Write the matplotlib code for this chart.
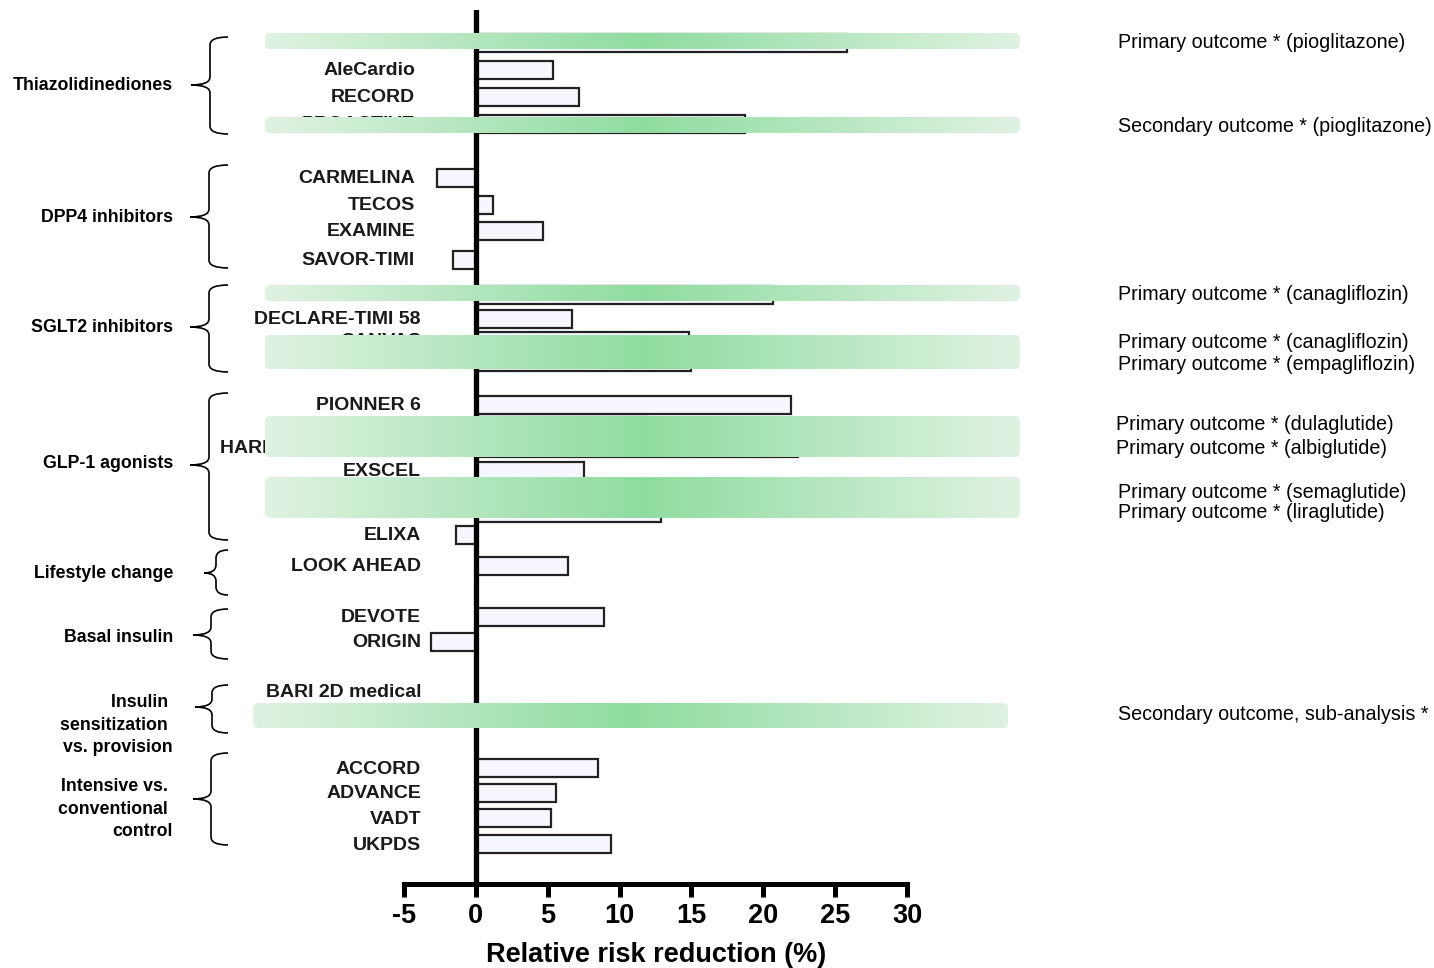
import numpy as np
import matplotlib
matplotlib.use("Agg")
import matplotlib.pyplot as plt
from matplotlib.patches import FancyBboxPatch, PathPatch
from matplotlib.path import Path

plt.rcParams['font.family'] = ['Liberation Sans', 'DejaVu Sans']

# ---------------- data ----------------
trials = ['IRIS', 'AleCardio', 'RECORD', 'PROACTIVE',
          'CARMELINA', 'TECOS', 'EXAMINE', 'SAVOR-TIMI',
          'CREDENCE', 'DECLARE-TIMI 58', 'CANVAS', 'EMPA-REG',
          'PIONNER 6', 'REWIND', 'HARMONY Outcomes', 'EXSCEL', 'SUSTAIN-6', 'LEADER', 'ELIXA',
          'LOOK AHEAD',
          'DEVOTE', 'ORIGIN',
          'BARI 2D medical', '',
          'ACCORD', 'ADVANCE', 'VADT', 'UKPDS']
rrr = [25.8, 5.4, 7.2, 18.7,
       -2.7, 1.2, 4.7, -1.6,
       20.7, 6.7, 14.8, 15.0,
       21.9, 12.0, 22.4, 7.5, 26.0, 12.9, -1.4,
       6.4,
       8.9, -3.1,
       0.0, np.nan,
       8.5, 5.6, 5.2, 9.4]

groups = ['Thiazolidinediones', 'DPP4 inhibitors', 'SGLT2 inhibitors', 'GLP-1 agonists',
          'Lifestyle change', 'Basal insulin', 'Insulin \nsensitization \nvs. provision',
          'Intensive vs. \nconventional \ncontrol']

notes = ['Primary outcome * (pioglitazone)', 'Secondary outcome * (pioglitazone)',
         'Primary outcome * (canagliflozin)', 'Primary outcome * (canagliflozin)',
         'Primary outcome * (empagliflozin)', 'Primary outcome * (dulaglutide)',
         'Primary outcome * (albiglutide)', 'Primary outcome * (semaglutide)',
         'Primary outcome * (liraglutide)', 'Secondary outcome, sub-analysis *']

xticks = [-5, 0, 5, 10, 15, 20, 25, 30]
xlabel = 'Relative risk reduction (%)'

# ---------------- layout (pixels) ----------------
W, H = 1434, 968
row_y = [43, 70, 97, 124, 178, 205, 231, 260, 295, 319, 341, 362,
         405, 426, 448, 471, 492, 513, 535, 566, 617, 642, 692, 715,
         768, 793, 818, 844]
label_right = [415] * 8 + [421] * 20
group_y = [85, 217, 327, 464, 573, 638, 725, 809]
braces = [(37, 134, 85, 210, 191), (165, 268, 217, 209, 190), (285, 372, 327, 209, 190),
          (393, 540, 465, 209, 190), (550, 595, 573, 216, 204), (609, 659, 635, 211, 193),
          (685, 733, 707, 212, 195), (753, 845, 799, 211, 193)]
note_pos = [(1118, 42), (1118, 126), (1118, 295), (1118, 342), (1118, 364),
            (1116, 425), (1116, 448), (1118, 493), (1118, 512), (1118, 714)]
bands = [(265, 1020, 33, 49), (265, 1020, 117, 133), (265, 1020, 285, 301),
         (265, 1020, 335, 369), (265, 1020, 416, 457), (265, 1020, 477, 518),
         (253, 1008, 703, 728)]

AX_L, AX_R, AX_T, AX_B = 404, 907, 10, 884

fig = plt.figure(figsize=(W / 100, H / 100), dpi=100)
ax = fig.add_axes([AX_L / W, (H - AX_B) / H, (AX_R - AX_L) / W, (AX_B - AX_T) / H])
ax.set_zorder(1)
ax.set_xlim(-5, 30)
ax.set_ylim(AX_B, AX_T)
ax.patch.set_alpha(0)

def px2x(px):
    return -5 + (px - AX_L) / (AX_R - AX_L) * 35.0

ax.barh(row_y, rrr, height=17.5, color='#F7F7FF', edgecolor='#222222', linewidth=1.6, zorder=2)
ax.axvline(0, color='black', lw=3.8, zorder=3)

for sp in ['left', 'right', 'top']:
    ax.spines[sp].set_visible(False)
ax.spines['bottom'].set_linewidth(3.6)
ax.set_yticks([])
ax.set_xticks(xticks)
ax.set_xticklabels([str(t) for t in xticks])
ax.tick_params(axis='x', direction='out', length=9.5, width=3.6, pad=4,
               labelsize=19.5, labelcolor='black')
for lab in ax.get_xticklabels():
    lab.set_fontweight('bold')
ax.set_xlabel(xlabel, fontsize=19.5, fontweight='bold', va='center')
ax.xaxis.set_label_coords(0.502, (AX_B - 955) / (AX_B - AX_T))

for name, y, rx in zip(trials, row_y, label_right):
    ax.text(px2x(rx), y + 1, name, ha='right', va='center', fontsize=14, fontweight='bold',
            color='#1a1a1a', clip_on=False, zorder=3)

# ---------------- overlay axes (pixel coordinates) ----------------
pax = fig.add_axes([0, 0, 1, 1])
pax.set_zorder(2)
pax.set_xlim(0, W)
pax.set_ylim(H, 0)
pax.axis('off')

center = np.array([143, 220, 160]) / 255.0
edge = np.array([224, 242, 226]) / 255.0
t = np.linspace(0, 1, 600)
d = np.abs(t - 0.5) * 2
grad = (center[None, :] * (1 - d[:, None]) + edge[None, :] * d[:, None])[None, :, :]

for (x0, x1, y0, y1) in bands:
    im = pax.imshow(grad, extent=(x0, x1, y1, y0), aspect='auto', zorder=5,
                    interpolation='bilinear')
    clip = FancyBboxPatch((x0, y0), x1 - x0, y1 - y0,
                          boxstyle='round,pad=0,rounding_size=5',
                          transform=pax.transData, facecolor='none', edgecolor='none')
    pax.add_patch(clip)
    im.set_clip_path(clip)
pax.set_xlim(0, W)
pax.set_ylim(H, 0)

def brace(top, bot, ty, xv, xt, xe=228, r=8):
    verts = [(xe, top), (xv, top), (xv, top + r),
             (xv, ty - r), (xv, ty), (xt, ty),
             (xv, ty), (xv, ty + r),
             (xv, bot - r), (xv, bot), (xe, bot)]
    codes = [Path.MOVETO, Path.CURVE3, Path.CURVE3,
             Path.LINETO, Path.CURVE3, Path.CURVE3,
             Path.CURVE3, Path.CURVE3,
             Path.LINETO, Path.CURVE3, Path.CURVE3]
    pax.add_patch(PathPatch(Path(verts, codes), facecolor='none', edgecolor='black',
                            lw=1.2, zorder=4))

for b in braces:
    brace(*b)

for g, y in zip(groups, group_y):
    pax.text(173, y, g, ha='right', va='center', multialignment='right', fontsize=12.8,
             fontweight='bold', color='black', linespacing=1.42, zorder=6)

for txt, (x, y) in zip(notes, note_pos):
    pax.text(x, y, txt, ha='left', va='center', fontsize=14.2, color='black', zorder=6)

fig.savefig('out.png', dpi=100)
